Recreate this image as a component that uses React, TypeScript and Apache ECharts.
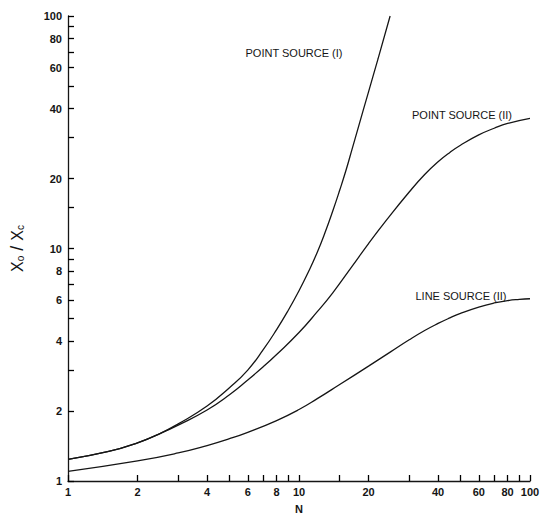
import React, { useEffect, useRef } from "react";
import * as echarts from "echarts";

// Point source (I)
const nPointI = [1, 1.5, 2, 2.5, 3, 4, 5, 6, 7, 8, 9, 10, 11, 12, 13, 14, 15, 16, 17, 18, 20, 22, 24.8];
const vPointI = [1.24, 1.34, 1.46, 1.6, 1.76, 2.1, 2.52, 3.0, 3.67, 4.48, 5.44, 6.58, 7.96, 9.64, 11.8, 14.5, 17.8, 21.8, 26.9, 32.8, 47.2, 65.6, 100];

// Point source (II)
const nPointII = [1, 1.5, 2, 2.5, 3, 4, 5, 6, 7, 8, 10, 12, 14, 17, 20, 24, 30, 35, 40, 45, 50, 60, 70, 80, 100];
const vPointII = [1.24, 1.34, 1.46, 1.6, 1.74, 2.02, 2.35, 2.72, 3.1, 3.5, 4.35, 5.35, 6.45, 8.4, 10.5, 13.3, 17.5, 20.8, 23.6, 25.9, 27.8, 30.8, 32.9, 34.5, 36.3];

// Line source (II)
const nLineII = [1, 2, 3, 4, 5, 6, 8, 10, 12, 15, 20, 25, 30, 35, 40, 45, 50, 60, 70, 80, 90, 100];
const vLineII = [1.1, 1.22, 1.32, 1.42, 1.52, 1.62, 1.82, 2.03, 2.26, 2.6, 3.12, 3.6, 4.05, 4.44, 4.76, 5.03, 5.26, 5.6, 5.83, 5.97, 6.04, 6.08];

const xTickLabels = [1, 2, 4, 6, 8, 10, 20, 40, 60, 80, 100];
const yTickLabels = [1, 2, 4, 6, 8, 10, 20, 40, 60, 80, 100];
const tickMarks = [1, 2, 3, 4, 5, 6, 7, 8, 9, 10, 15, 20, 30, 40, 50, 60, 70, 80, 90, 100];

const seriesNames = ["POINT SOURCE (I)", "POINT SOURCE (II)", "LINE SOURCE (II)"];

const lg = (v: number) => Math.log10(v);
const fmt = (v: number) => String(Math.round(Math.pow(10, v)));

const INK = "#151515";
const FONT = "Liberation Sans, Arial, sans-serif";

export default function App() {
  const ref = useRef<HTMLDivElement>(null);

  useEffect(() => {
    if (!ref.current) return;
    const chart = echarts.init(ref.current, undefined, { renderer: "svg" });

    const mk = (ns: number[], vs: number[]) => ns.map((n, i) => [lg(n), lg(vs[i])]);
    const lineSeries = (name: string, data: number[][]) => ({
      name,
      type: "line",
      data,
      smooth: 0.5,
      showSymbol: false,
      symbol: "none",
      clip: true,
      lineStyle: { color: INK, width: 1.3 },
    });

    const tickCfg = {
      show: true,
      inside: true,
      length: 6,
      customValues: tickMarks.map(lg),
      lineStyle: { color: "#000000", width: 1.3 },
    };

    chart.setOption({
      animation: false,
      backgroundColor: "#ffffff",
      grid: { left: 64, right: 14, top: 16, bottom: 32, containLabel: false },
      xAxis: {
        type: "value",
        min: 0,
        max: 2,
        axisLine: { show: true, lineStyle: { color: INK, width: 1.3 } },
        axisTick: tickCfg,
        splitLine: { show: false },
        name: "N",
        nameLocation: "middle",
        nameGap: 22,
        nameTextStyle: { color: INK, fontSize: 11, fontFamily: FONT, fontWeight: "bold" },
        axisLabel: {
          customValues: xTickLabels.map(lg),
          formatter: fmt,
          color: INK,
          fontSize: 11,
          fontFamily: FONT,
          fontWeight: "bold",
          margin: 5,
        },
      },
      yAxis: {
        type: "value",
        min: 0,
        max: 2,
        axisLine: { show: true, lineStyle: { color: INK, width: 1.3 } },
        axisTick: tickCfg,
        splitLine: { show: false },
        name: "{x|X}{s|o}{sl| / }{x|X}{s|c}",
        nameLocation: "middle",
        nameGap: 42,
        nameTextStyle: {
          color: INK,
          fontFamily: FONT,
          rich: {
            x: { fontSize: 16, color: INK, fontFamily: FONT },
            s: { fontSize: 10, color: INK, fontFamily: FONT, padding: [6, 0, 0, 0] },
            sl: { fontSize: 18, color: INK, fontFamily: FONT },
          },
        },
        axisLabel: {
          customValues: yTickLabels.map(lg),
          formatter: fmt,
          color: INK,
          fontSize: 11,
          fontFamily: FONT,
          fontWeight: "bold",
          margin: 6,
        },
      },
      series: [
        lineSeries(seriesNames[0], mk(nPointI, vPointI)),
        lineSeries(seriesNames[1], mk(nPointII, vPointII)),
        lineSeries(seriesNames[2], mk(nLineII, vLineII)),
      ],
      graphic: [
        {
          type: "text",
          x: 294,
          y: 53,
          style: { text: seriesNames[0], fontSize: 11, fontFamily: FONT, fill: INK, align: "center", verticalAlign: "middle" },
        },
        {
          type: "text",
          x: 462,
          y: 115,
          style: { text: seriesNames[1], fontSize: 11, fontFamily: FONT, fill: INK, align: "center", verticalAlign: "middle" },
        },
        {
          type: "text",
          x: 461,
          y: 296,
          style: { text: seriesNames[2], fontSize: 11, fontFamily: FONT, fill: INK, align: "center", verticalAlign: "middle" },
        },
      ],
    });

    return () => chart.dispose();
  }, []);

  return (
    <div
      ref={ref}
      style={{ position: "fixed", left: 0, top: 0, width: 544, height: 519, background: "#fff" }}
    />
  );
}
